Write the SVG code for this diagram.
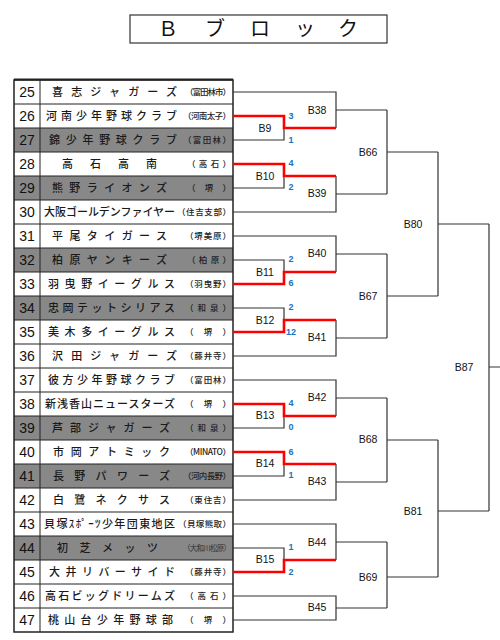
<svg xmlns="http://www.w3.org/2000/svg" width="500" height="640" viewBox="0 0 500 640">
<style>
.bg{fill:#fff}
.gray{fill:#888}
.grid{stroke:#222;stroke-width:1;fill:none}
.num{font-family:"Liberation Sans",Arial,sans-serif;font-size:14px;fill:#111;text-anchor:middle}
.nm{font-family:"Noto Sans CJK JP","Noto Sans",sans-serif;font-size:11px;font-weight:500;fill:#1a1a1a}
.pr{font-family:"Noto Sans CJK JP","Noto Sans",sans-serif;font-size:8.5px;font-weight:500;fill:#222}
.ln{stroke:#333;stroke-width:1.2;fill:none}
.red{stroke:#ff0000;stroke-width:2.6;fill:none}
.lbl{font-family:"Liberation Sans",Arial,sans-serif;font-size:10.5px;fill:#111;text-anchor:middle}
.sc{font-family:"Liberation Sans",Arial,sans-serif;font-size:9px;font-weight:700;fill:#1a6fbf;text-anchor:middle}
.ttl{font-family:"Noto Sans CJK JP","Noto Sans",sans-serif;font-size:20px;fill:#111;text-anchor:middle}
</style>
<rect width="500" height="640" fill="#fff"/>
<g id="title">
<rect x="130" y="15" width="257" height="28" fill="#fff" stroke="#333" stroke-width="1.2"/>
<text class="ttl" x="168 215 260 305 348" y="36">Ｂブロック</text>
</g>
<g id="table">
<rect x="14" y="128" width="219" height="24" class="gray"/>
<rect x="14" y="176" width="219" height="24" class="gray"/>
<rect x="14" y="248" width="219" height="24" class="gray"/>
<rect x="14" y="296" width="219" height="24" class="gray"/>
<rect x="14" y="416" width="219" height="24" class="gray"/>
<rect x="14" y="464" width="219" height="24" class="gray"/>
<rect x="14" y="536" width="219" height="24" class="gray"/>
<path class="grid" d="M14,104H233M14,128H233M14,152H233M14,176H233M14,200H233M14,224H233M14,248H233M14,272H233M14,296H233M14,320H233M14,344H233M14,368H233M14,392H233M14,416H233M14,440H233M14,464H233M14,488H233M14,512H233M14,536H233M14,560H233M14,584H233M14,608H233M40,80V632"/>
<rect x="14" y="80" width="219" height="552" fill="none" stroke="#222" stroke-width="1.5"/>
<line x1="14" y1="79.5" x2="233" y2="79.5" stroke="#222" stroke-width="2"/>
</g>
<g id="t25"><text class="num" x="27" y="97">25</text><text class="nm" x="52" y="96" textLength="125" lengthAdjust="spacing">喜志ジャガーズ</text><text class="pr" x="185" y="95" textLength="46" lengthAdjust="spacing">（富田林市）</text></g>
<g id="t26"><text class="num" x="27" y="121">26</text><text class="nm" x="46" y="120" textLength="131" lengthAdjust="spacing">河南少年野球クラブ</text><text class="pr" x="183" y="119" textLength="48" lengthAdjust="spacing">（河南太子）</text></g>
<g id="t27"><text class="num" x="27" y="145">27</text><text class="nm" x="49" y="144" textLength="128" lengthAdjust="spacing">錦少年野球クラブ</text><text class="pr" x="183" y="143" textLength="48" lengthAdjust="spacing">（富田林）</text></g>
<g id="t28"><text class="num" x="27" y="169">28</text><text class="nm" x="62" y="168" textLength="95" lengthAdjust="spacing">高石高南</text><text class="pr" x="187" y="167" textLength="44" lengthAdjust="spacing">（高石）</text></g>
<g id="t29"><text class="num" x="27" y="193">29</text><text class="nm" x="52" y="192" textLength="115" lengthAdjust="spacing">熊野ライオンズ</text><text class="pr" x="187" y="191" textLength="44" lengthAdjust="spacing">（ 堺 ）</text></g>
<g id="t30"><text class="num" x="27" y="217">30</text><text class="nm" x="44" y="216" textLength="131" lengthAdjust="spacing">大阪ゴールデンファイヤー</text><text class="pr" x="177" y="215" textLength="54" lengthAdjust="spacing">（住吉支部）</text></g>
<g id="t31"><text class="num" x="27" y="241">31</text><text class="nm" x="52" y="240" textLength="115" lengthAdjust="spacing">平尾タイガース</text><text class="pr" x="185" y="239" textLength="46" lengthAdjust="spacing">（堺美原）</text></g>
<g id="t32"><text class="num" x="27" y="265">32</text><text class="nm" x="52" y="264" textLength="115" lengthAdjust="spacing">柏原ヤンキーズ</text><text class="pr" x="187" y="263" textLength="44" lengthAdjust="spacing">（柏原）</text></g>
<g id="t33"><text class="num" x="27" y="289">33</text><text class="nm" x="48" y="288" textLength="127" lengthAdjust="spacing">羽曳野イーグルス</text><text class="pr" x="185" y="287" textLength="46" lengthAdjust="spacing">（羽曳野）</text></g>
<g id="t34"><text class="num" x="27" y="313">34</text><text class="nm" x="48" y="312" textLength="127" lengthAdjust="spacing">忠岡テットシリアス</text><text class="pr" x="185" y="311" textLength="46" lengthAdjust="spacing">（和泉）</text></g>
<g id="t35"><text class="num" x="27" y="337">35</text><text class="nm" x="48" y="336" textLength="127" lengthAdjust="spacing">美木多イーグルス</text><text class="pr" x="185" y="335" textLength="46" lengthAdjust="spacing">（ 堺 ）</text></g>
<g id="t36"><text class="num" x="27" y="361">36</text><text class="nm" x="52" y="360" textLength="125" lengthAdjust="spacing">沢田ジャガーズ</text><text class="pr" x="185" y="359" textLength="46" lengthAdjust="spacing">（藤井寺）</text></g>
<g id="t37"><text class="num" x="27" y="385">37</text><text class="nm" x="48" y="384" textLength="127" lengthAdjust="spacing">彼方少年野球クラブ</text><text class="pr" x="185" y="383" textLength="46" lengthAdjust="spacing">（富田林）</text></g>
<g id="t38"><text class="num" x="27" y="409">38</text><text class="nm" x="45" y="408" textLength="130" lengthAdjust="spacing">新浅香山ニュースターズ</text><text class="pr" x="185" y="407" textLength="46" lengthAdjust="spacing">（ 堺 ）</text></g>
<g id="t39"><text class="num" x="27" y="433">39</text><text class="nm" x="52" y="432" textLength="118" lengthAdjust="spacing">芦部ジャガーズ</text><text class="pr" x="185" y="431" textLength="46" lengthAdjust="spacing">（和泉）</text></g>
<g id="t40"><text class="num" x="27" y="457">40</text><text class="nm" x="53" y="456" textLength="117" lengthAdjust="spacing">市岡アトミック</text><text class="pr" x="185" y="455" textLength="46" lengthAdjust="spacing">（MINATO）</text></g>
<g id="t41"><text class="num" x="27" y="481">41</text><text class="nm" x="53" y="480" textLength="117" lengthAdjust="spacing">長野パワーズ</text><text class="pr" x="183" y="479" textLength="48" lengthAdjust="spacing">（河内長野）</text></g>
<g id="t42"><text class="num" x="27" y="505">42</text><text class="nm" x="53" y="504" textLength="117" lengthAdjust="spacing">白鷺ネクサス</text><text class="pr" x="185" y="503" textLength="46" lengthAdjust="spacing">（東住吉）</text></g>
<g id="t43"><text class="num" x="27" y="529">43</text><text class="nm" x="44" y="528" textLength="131" lengthAdjust="spacing">貝塚ｽﾎﾟｰﾂ少年団東地区</text><text class="pr" x="178" y="527" textLength="53" lengthAdjust="spacing">（貝塚熊取）</text></g>
<g id="t44"><text class="num" x="27" y="553">44</text><text class="nm" x="57" y="552" textLength="101" lengthAdjust="spacing">初芝メッツ</text><text class="pr" x="183" y="551" textLength="48" lengthAdjust="spacing" style="font-size:7.5px;fill:#444">（大和川松原）</text></g>
<g id="t45"><text class="num" x="27" y="577">45</text><text class="nm" x="49" y="576" textLength="126" lengthAdjust="spacing">大井リバーサイド</text><text class="pr" x="185" y="575" textLength="46" lengthAdjust="spacing">（藤井寺）</text></g>
<g id="t46"><text class="num" x="27" y="601">46</text><text class="nm" x="45" y="600" textLength="130" lengthAdjust="spacing">高石ビッグドリームズ</text><text class="pr" x="185" y="599" textLength="46" lengthAdjust="spacing">（高石）</text></g>
<g id="t47"><text class="num" x="27" y="625">47</text><text class="nm" x="48" y="624" textLength="125" lengthAdjust="spacing">桃山台少年野球部</text><text class="pr" x="185" y="623" textLength="46" lengthAdjust="spacing">（ 堺 ）</text></g>
<g id="connectors">
<path class="ln" d="M233,116H284V140H233M284,128H336M233,164H284V188H233M284,176H336M233,260H284V284H233M284,272H336M233,308H284V332H233M284,320H336M233,404H284V428H233M284,416H336M233,452H284V476H233M284,464H336M233,548H284V572H233M284,560H336"/>
<path class="ln" d="M233,92H336V128M336,110H387M336,176V212H233M336,194H387M233,236H336V272M336,254H387M336,320V356H233M336,338H387M233,380H336V416M336,398H387M336,464V500H233M336,482H387M233,524H336V560M336,542H387M233,596H336V620H233M336,608H387"/>
<path class="ln" d="M387,110V194M387,152H438M387,254V338M387,296H438M387,398V482M387,440H438M387,542V577M387,577V608M387,577H438"/>
<path class="ln" d="M438,152V296M438,224H489M438,440V577M438,511H489M489,224V511M489,367H500"/>
<path class="red" d="M233,116H284V128H336M233,164H284V176H336M233,284H284V272H336M233,332H284V320H336M233,404H284V416H336M233,452H284V464H336M233,572H284V560H336"/>
</g>
<g id="B9"><text class="lbl" x="265" y="132">B9</text><text class="sc" x="291" y="119">3</text><text class="sc" x="291" y="143">1</text></g>
<g id="B10"><text class="lbl" x="265" y="180">B10</text><text class="sc" x="291" y="166">4</text><text class="sc" x="291" y="190">2</text></g>
<g id="B11"><text class="lbl" x="265" y="276">B11</text><text class="sc" x="291" y="262">2</text><text class="sc" x="291" y="286">6</text></g>
<g id="B12"><text class="lbl" x="265" y="324">B12</text><text class="sc" x="291" y="310">2</text><text class="sc" x="291" y="335">12</text></g>
<g id="B13"><text class="lbl" x="265" y="419">B13</text><text class="sc" x="291" y="406">4</text><text class="sc" x="291" y="430">0</text></g>
<g id="B14"><text class="lbl" x="265" y="467">B14</text><text class="sc" x="291" y="455">6</text><text class="sc" x="291" y="478">1</text></g>
<g id="B15"><text class="lbl" x="265" y="563">B15</text><text class="sc" x="291" y="550">1</text><text class="sc" x="291" y="575">2</text></g>
<g id="B38"><text class="lbl" x="317" y="114">B38</text></g>
<g id="B39"><text class="lbl" x="317" y="197">B39</text></g>
<g id="B40"><text class="lbl" x="317" y="257">B40</text></g>
<g id="B41"><text class="lbl" x="317" y="341">B41</text></g>
<g id="B42"><text class="lbl" x="317" y="401">B42</text></g>
<g id="B43"><text class="lbl" x="317" y="485">B43</text></g>
<g id="B44"><text class="lbl" x="317" y="546">B44</text></g>
<g id="B45"><text class="lbl" x="317" y="611">B45</text></g>
<g id="B66"><text class="lbl" x="368" y="156">B66</text></g>
<g id="B67"><text class="lbl" x="368" y="300">B67</text></g>
<g id="B68"><text class="lbl" x="368" y="443">B68</text></g>
<g id="B69"><text class="lbl" x="368" y="581">B69</text></g>
<g id="B80"><text class="lbl" x="413" y="228">B80</text></g>
<g id="B81"><text class="lbl" x="413" y="515">B81</text></g>
<g id="B87"><text class="lbl" x="464" y="371">B87</text></g>
</svg>
